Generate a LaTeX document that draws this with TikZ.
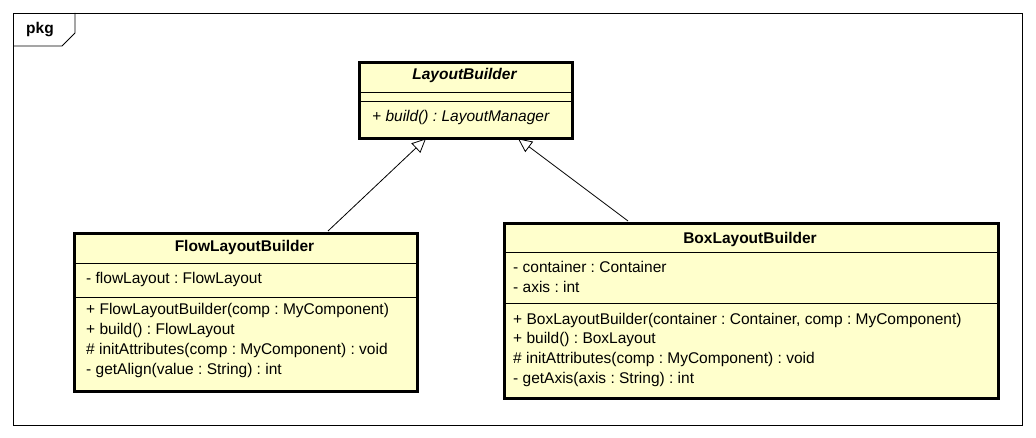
\documentclass[tikz,border=0pt]{standalone}
\usepackage{fontspec}
\setmainfont{Liberation Sans}
\usetikzlibrary{arrows.meta}
\definecolor{cls}{RGB}{255,255,204}
\frenchspacing
\tikzset{
  cbox/.style={draw=black, line width=2.6pt, fill=cls, anchor=north west, inner sep=0pt},
  sep/.style={draw=black, line width=0.8pt},
  txt/.style={anchor=west, inner sep=0pt, text height=10pt, text depth=3pt, font=\fontsize{15.5}{17}\selectfont},
  ttl/.style={anchor=center, inner sep=0pt, text height=10pt, text depth=3pt, font=\fontsize{15.5}{17}\selectfont\bfseries},
  gen/.style={draw=black, line width=0.8pt, -{Triangle[open, length=14pt, width=13pt, line width=0.8pt]}},
}
\begin{document}
\begin{tikzpicture}[x=1pt, y=-1pt]
\useasboundingbox (0,0) rectangle (1036,438);
\fill[white] (0,0) rectangle (1036,438);
% package frame
\draw[line width=0.8pt] (13,13) rectangle (1022,425);
\draw[line width=0.8pt] (13,46) -- (62,46) -- (75,33) -- (75,13);
\node[anchor=center, inner sep=0pt, text height=10pt, text depth=3pt, font=\fontsize{15.5}{17}\selectfont\bfseries] (pkg) at (40,30) {pkg};
% LayoutBuilder
\node[cbox, minimum width=213pt, minimum height=76pt] (lb) at (358,61) {};
\draw[sep] (358,92) -- (571,92);
\draw[sep] (358,101) -- (571,101);
\node[ttl, font=\fontsize{15.5}{17}\selectfont\bfseries\itshape] (lbt) at (464.5,76) {LayoutBuilder};
\node[txt, font=\fontsize{15.5}{17}\selectfont\itshape] (lbm) at (372,118) {+ build() : LayoutManager};
% FlowLayoutBuilder
\node[cbox, minimum width=343pt, minimum height=158pt] (flow) at (73,232) {};
\draw[sep] (73,263) -- (416,263);
\draw[sep] (73,297) -- (416,297);
\node[ttl] (flowt) at (244.5,248) {FlowLayoutBuilder};
\node[txt] (f1) at (86,280) {- flowLayout : FlowLayout};
\node[txt] (f2) at (86,311) {+ FlowLayoutBuilder(comp : MyComponent)};
\node[txt] (f3) at (86,331) {+ build() : FlowLayout};
\node[txt] (f4) at (86,351) {\# initAttributes(comp : MyComponent) : void};
\node[txt] (f5) at (86,371) {- getAlign(value : String) : int};
% BoxLayoutBuilder
\node[cbox, minimum width=494pt, minimum height=175pt] (box) at (503,222) {};
\draw[sep] (503,252) -- (997,252);
\draw[sep] (503,303) -- (997,303);
\node[ttl] (boxt) at (750,240) {BoxLayoutBuilder};
\node[txt] (b1) at (513,269) {- container : Container};
\node[txt] (b2) at (513,289) {- axis : int};
\node[txt] (b3) at (513,321) {+ BoxLayoutBuilder(container : Container, comp : MyComponent)};
\node[txt] (b4) at (513,340) {+ build() : BoxLayout};
\node[txt] (b5) at (513,360) {\# initAttributes(comp : MyComponent) : void};
\node[txt] (b6) at (513,380) {- getAxis(axis : String) : int};
% generalizations
\coordinate (fs) at (328,231);
\coordinate (ft) at (426,138.5);
\coordinate (bs) at (628,221);
\coordinate (bt) at (518,138.5);
\draw[gen] (fs) -- (ft);
\draw[gen] (bs) -- (bt);
\end{tikzpicture}
\end{document}
